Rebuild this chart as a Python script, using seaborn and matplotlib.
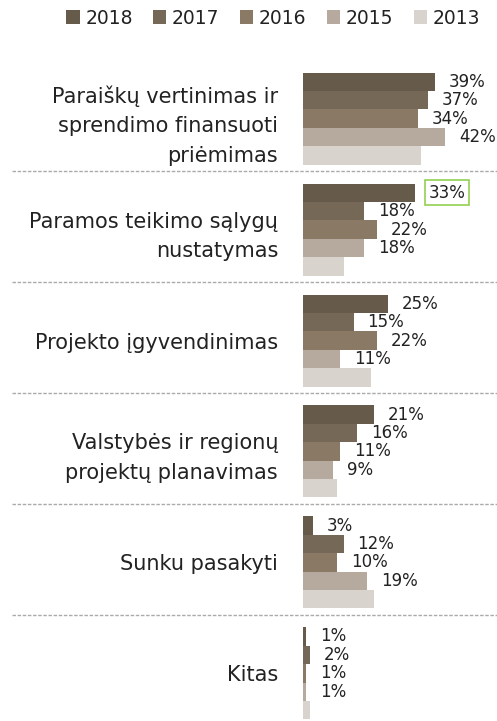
import seaborn as sns
import pandas as pd
import matplotlib.pyplot as plt

categories = ["Paraiškų vertinimas ir\nsprendimo finansuoti\npriėmimas",
              "Paramos teikimo sąlygų\nnustatymas",
              "Projekto įgyvendinimas",
              "Valstybės ir regionų\nprojektų planavimas",
              "Sunku pasakyti",
              "Kitas"]
years = ["2018", "2017", "2016", "2015", "2013"]
v2018 = [39, 33, 25, 21, 3, 1]
v2017 = [37, 18, 15, 16, 12, 2]
v2016 = [34, 22, 22, 11, 10, 1]
v2015 = [42, 18, 11, 9, 19, 1]
v2013 = [35, 12, 20, 10, 21, 2]
colors = ["#665A4B", "#766857", "#8A7965", "#B5AA9D", "#D8D3CD"]

series = dict(zip(years, [v2018, v2017, v2016, v2015, v2013]))
rows = []
for y, vals in series.items():
    for c, v in zip(categories, vals):
        rows.append({"kategorija": c, "metai": y, "reiksme": v})
df = pd.DataFrame(rows)

sns.set_style("white")
plt.rcParams['font.family'] = ['DejaVu Sans']

fig = plt.figure(figsize=(4.97, 7.21), dpi=100)
ax = fig.add_axes([303 / 497, 0.0, 194 / 497, 1.0])

sns.barplot(data=df, y="kategorija", x="reiksme", hue="metai", hue_order=years,
            palette=colors, orient="h", width=0.83, saturation=1, linewidth=0,
            ax=ax, legend=True)

ax.set_xlim(0, 194 / 3.38)
ax.set_ylim(5.43, -1.07)
ax.set_xlabel("")
ax.set_ylabel("")
ax.set_xticks([])
sns.despine(ax=ax, left=True, bottom=True)
ax.tick_params(axis="y", length=0, pad=18, labelsize=15, colors="#222222")
for t in ax.get_yticklabels():
    t.set_multialignment("right")
    t.set_linespacing(1.6)

# procentu etiketes (be 2013)
for i, cont in enumerate(ax.containers[:4]):
    vals = series[years[i]]
    txts = ax.bar_label(cont, labels=[f"{v}%" for v in vals], padding=10,
                        fontsize=12, color="#222222")
    if i == 0:
        txts[1].set_bbox(dict(facecolor="white", edgecolor="#92D050",
                              linewidth=1.2, pad=2.5))

# punktyrines skiriamosios linijos
for k in range(5):
    ax.axhline(k + 0.47, xmin=-1.5, xmax=1.0, color="#AAAAAA",
               linestyle=(0, (2.5, 1.2)), linewidth=1, clip_on=False)

handles, labels = ax.get_legend_handles_labels()
ax.get_legend().remove()
fig.legend(handles, labels, loc="center", bbox_to_anchor=(0.55, 0.975), ncol=5,
           frameon=False, fontsize=13.5, handlelength=0.7, handleheight=0.7,
           handletextpad=0.3, columnspacing=1.1, labelcolor="#222222")

fig.savefig("out.png", dpi=100)
